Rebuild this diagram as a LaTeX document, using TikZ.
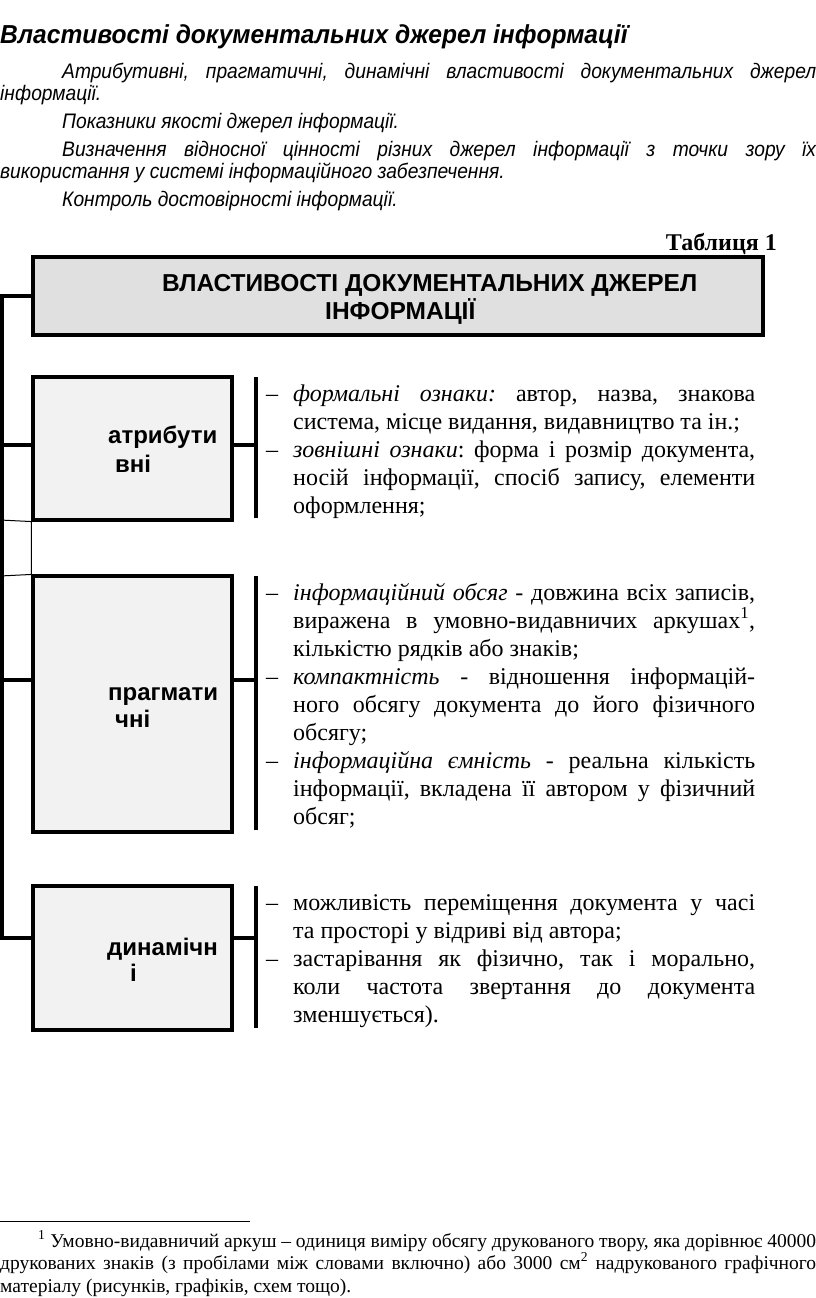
\documentclass[tikz,border=0pt]{standalone}
\usepackage{fontspec}
\setmainfont{Liberation Serif}
\newfontfamily\arialfont{Liberation Sans}
\newfontfamily\arialnarrow[FakeStretch=0.915]{Liberation Sans}
\newfontfamily\arialtitle[FakeStretch=0.945]{Liberation Sans}
\definecolor{hdrgray}{HTML}{E0E0E0}
\definecolor{subgray}{HTML}{F2F2F2}
\newcommand{\dashitem}[1]{\hangindent=27pt\hangafter=1\noindent\makebox[27pt][l]{–}#1\par}
\newcommand{\itemblock}[1]{\parbox[t]{489pt}{\fontsize{24}{28}\selectfont\frenchspacing\tolerance=9999\hyphenpenalty=10000\exhyphenpenalty=10000 #1}}
\begin{document}
\begin{tikzpicture}[x=1pt,y=-1pt,
  conn/.style={line width=3.1pt},
  thinln/.style={line width=1pt},
  hdrbox/.style={draw, line width=3.1pt, fill=hdrgray, minimum width=730pt, minimum height=78pt, inner sep=0},
  subbox/.style={draw, line width=3.1pt, fill=subgray, minimum width=199pt, inner sep=0},
  lbl/.style={anchor=base west, inner sep=0, font=\arialfont\bfseries\fontsize{24}{28}\selectfont},
  hlbl/.style={anchor=base west, inner sep=0, font=\arialfont\bfseries\fontsize{24.5}{28}\selectfont},
  txt/.style={anchor=base west, inner sep=0},
]
\useasboundingbox[fill=white] (0,0) rectangle (816,1298);

% top text
\node[txt] (title) at (0,44) {\arialtitle\bfseries\itshape\fontsize{26}{30}\selectfont Властивості документальних джерел інформації};
\node[txt] (intro) at (0,78) {\parbox[t]{816pt}{\arialnarrow\itshape\fontsize{21}{22}\selectfont\frenchspacing\parindent=62pt\parskip=6pt\tolerance=9999\hyphenpenalty=10000
Атрибутивні, прагматичні, динамічні властивості документальних джерел\linebreak інформації.\par
Показники якості джерел інформації.\par
Визначення відносної цінності різних джерел інформації з точки зору їх\linebreak використання у системі інформаційного забезпечення.\par
Контроль достовірності інформації.\par}};

\node[anchor=base east, inner sep=0] (tab) at (777,250) {\bfseries\fontsize{24}{28}\selectfont Таблиця 1};

% boxes
\node[hdrbox] (hdr) at (398,296) {};
\node[hlbl] (hdrA) at (162,291) {ВЛАСТИВОСТІ ДОКУМЕНТАЛЬНИХ ДЖЕРЕЛ};
\node[hlbl] (hdrB) at (325,319) {ІНФОРМАЦІЇ};

\node[subbox, minimum height=143pt] (attr) at (132.5,448.5) {};
\node[subbox, minimum height=256pt] (prag) at (132.5,704) {};
\node[subbox, minimum height=144pt] (dyn) at (132.5,958) {};

\node[lbl] (attrA) at (108,443) {атрибути};
\node[lbl] (attrB) at (115,472) {вні};
\node[lbl] (pragA) at (108,700) {прагмати};
\node[lbl] (pragB) at (115,727) {чні};
\node[lbl] (dynA) at (107,955) {динамічн};
\node[lbl] (dynB) at (130,981) {і};

% trunk and connectors
\coordinate (t0) at (2,296);
\coordinate (t1) at (2,445);
\coordinate (t2) at (2,680);
\coordinate (t3) at (2,938);
\draw[conn] (hdr.west) -- (t0) -- (t3) -- (t3 -| dyn.west);
\draw[conn] (t1) -- (t1 -| attr.west);
\draw[conn] (t2) -- (t2 -| prag.west);

\coordinate (bA1) at (256,377); \coordinate (bA2) at (256,518); \coordinate (bAc) at (256,445);
\coordinate (bP1) at (256,576); \coordinate (bP2) at (256,830); \coordinate (bPc) at (256,680);
\coordinate (bD1) at (256,886); \coordinate (bD2) at (256,1028); \coordinate (bDc) at (256,938);
\draw[conn] (bA1) -- (bA2);
\draw[conn] (bP1) -- (bP2);
\draw[conn] (bD1) -- (bD2);
\draw[conn] (bAc -| attr.east) -- (bAc);
\draw[conn] (bPc -| prag.east) -- (bPc);
\draw[conn] (bDc -| dyn.east) -- (bDc);

\coordinate (g1) at (0,520);
\coordinate (g2) at (0,576);
\draw[thinln] (g1) -- (attr.south west) -- (prag.north west) -- (g2);

% item texts
\node[txt] (attrT) at (266,401) {\itemblock{%
\dashitem{\textit{формальні ознаки:} автор, назва, знакова\linebreak система, місце видання, видавництво та ін.;}
\dashitem{\textit{зовнішні ознаки}: форма і розмір документа,\linebreak носій інформації, спосіб запису, елементи\linebreak оформлення;}}};
\node[txt] (pragT) at (266,600) {\itemblock{%
\dashitem{\textit{інформаційний обсяг} - довжина всіх записів,\linebreak виражена в умовно-видавничих аркушах\textsuperscript{1},\linebreak кількістю рядків або знаків;}
\dashitem{\textit{компактність} - відношення інформацій-\linebreak ного обсягу документа до його фізичного\linebreak обсягу;}
\dashitem{\textit{інформаційна ємність} - реальна кількість\linebreak інформації, вкладена її автором у фізичний\linebreak обсяг;}}};
\node[txt] (dynT) at (266,910) {\itemblock{%
\dashitem{можливість переміщення документа у часі\linebreak та просторі у відриві від автора;}
\dashitem{застарівання як фізично, так і морально,\linebreak коли частота звертання до документа\linebreak зменшується).}}};

% footnote
\coordinate (r0) at (0,1221);
\coordinate (r1) at (250,1221);
\draw[line width=0.8pt] (r0) -- (r1);
\node[txt] (foot) at (0,1247) {\parbox[t]{816pt}{\fontsize{19.5}{22.5}\selectfont\frenchspacing\parindent=38pt\tolerance=9999\hyphenpenalty=10000\exhyphenpenalty=10000
\textsuperscript{1} Умовно-видавничий аркуш – одиниця виміру обсягу друкованого твору, яка дорівнює 40000\linebreak друкованих знаків (з пробілами між словами включно) або 3000 см\textsuperscript{2} надрукованого графічного\linebreak матеріалу (рисунків, графіків, схем тощо).\par}};
\end{tikzpicture}
\end{document}
